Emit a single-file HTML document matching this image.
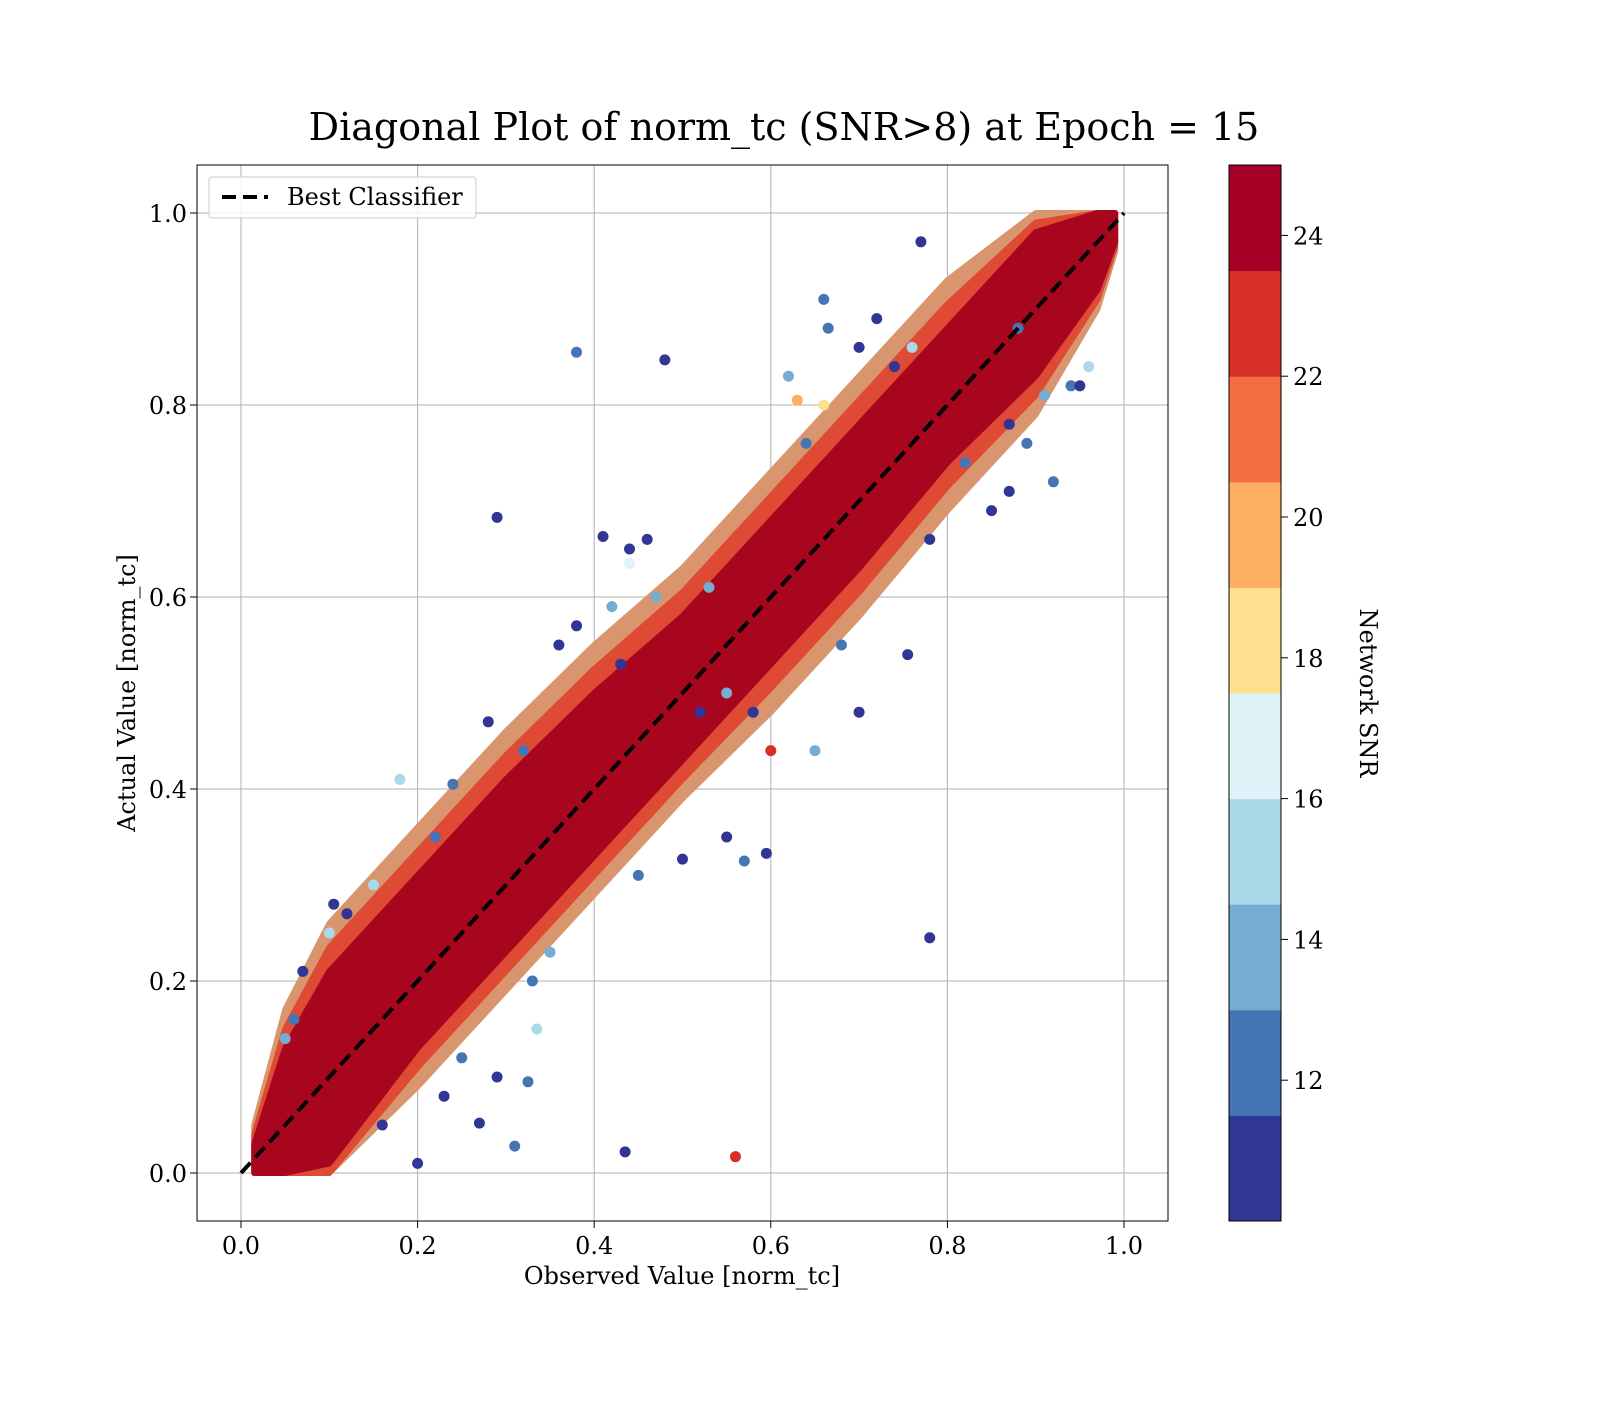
<!DOCTYPE html>
<html><head><meta charset="utf-8"><style>
body{margin:0;background:#fff;}
svg text{font-family:"DejaVu Serif","Liberation Serif",serif;fill:#000;}
</style></head><body>
<svg id="chart" width="1600" height="1400" xmlns="http://www.w3.org/2000/svg">
<rect width="1600" height="1400" fill="#fff"/>
<text x="784" y="140" font-size="38" text-anchor="middle">Diagonal Plot of norm_tc (SNR&gt;8) at Epoch = 15</text>
<g id="grid"></g>
<g id="band"></g>
<g id="pts"></g>
<line id="diag" stroke="#000" stroke-width="4" stroke-dasharray="14,7"/>
<rect x="197" y="165" width="971" height="1056" fill="none" stroke="#000" stroke-width="1"/>
<g id="ticks"></g>
<text x="682" y="1284" font-size="24" text-anchor="middle">Observed Value [norm_tc]</text>
<text transform="translate(135,693) rotate(-90)" font-size="24" text-anchor="middle">Actual Value [norm_tc]</text>
<g>
<rect x="209" y="177" width="267" height="41" rx="3" fill="#fff" fill-opacity="0.85" stroke="#ccc"/>
<line x1="222" y1="197" x2="268" y2="197" stroke="#000" stroke-width="4" stroke-dasharray="14,7"/>
<text x="287" y="205" font-size="24">Best Classifier</text>
</g>
<g id="cbar"></g>
<text transform="translate(1360,693) rotate(90)" font-size="24" text-anchor="middle">Network SNR</text>
</svg>
<script>
const xTicks=[0,0.2,0.4,0.6,0.8,1.0];
const yTicks=[0,0.2,0.4,0.6,0.8,1.0];
const cbTicks=[12,14,16,18,20,22,24];
const cbMin=10,cbMax=25;
const cbColors=["#313695","#4575b4","#74add1","#abd9e9","#e0f3f8","#fee090","#fdae61","#f46d43","#d73027","#a50026"];
// band envelope of dense scatter
const bandX=[0.015,0.05,0.1,0.2,0.3,0.4,0.5,0.6,0.7,0.8,0.9,0.97,0.99];
const bandOuterHi=[0.05,0.17,0.26,0.36,0.46,0.55,0.63,0.73,0.83,0.93,1.0,1.0,1.0];
const bandOuterLo=[0.0,0.0,0.0,0.09,0.19,0.29,0.39,0.48,0.58,0.69,0.79,0.9,0.96];
const bandMidHi=[0.04,0.15,0.235,0.335,0.435,0.525,0.605,0.705,0.805,0.905,0.99,1.0,1.0];
const bandMidLo=[0.0,0.0,0.0,0.11,0.21,0.31,0.41,0.505,0.605,0.715,0.81,0.91,0.965];
const bandInnerHi=[0.03,0.13,0.21,0.31,0.41,0.5,0.58,0.68,0.78,0.88,0.98,1.0,1.0];
const bandInnerLo=[0.0,0.0,0.01,0.13,0.23,0.33,0.43,0.53,0.63,0.74,0.83,0.92,0.97];
// individual points: observed, actual, snr
const ptX=[0.38,0.48,0.29,0.41,0.44,0.46,0.56,0.435,0.78,0.70,0.755,0.92,0.31,0.2,0.27,0.325,0.29,0.335,0.18,0.55,0.57,0.595,0.50,0.65,0.60,0.66,0.665,0.72,0.44,0.38,0.28,0.24,0.105,0.07,0.10,0.63,0.62,0.85,0.87,0.77,0.94,0.95,0.96,0.70,0.74,0.45,0.33,0.35,0.52,0.55,0.22,0.15,0.12,0.06,0.05,0.87,0.89,0.82,0.78,0.64,0.42,0.36,0.47,0.68,0.88,0.58,0.23,0.16,0.25,0.32,0.91,0.76,0.66,0.53,0.43];
const ptY=[0.855,0.847,0.683,0.663,0.65,0.66,0.017,0.022,0.245,0.48,0.54,0.72,0.028,0.01,0.052,0.095,0.10,0.15,0.41,0.35,0.325,0.333,0.327,0.44,0.44,0.91,0.88,0.89,0.635,0.57,0.47,0.405,0.28,0.21,0.25,0.805,0.83,0.69,0.71,0.97,0.82,0.82,0.84,0.86,0.84,0.31,0.2,0.23,0.48,0.50,0.35,0.30,0.27,0.16,0.14,0.78,0.76,0.74,0.66,0.76,0.59,0.55,0.60,0.55,0.88,0.48,0.08,0.05,0.12,0.44,0.81,0.86,0.80,0.61,0.53];
const ptS=[12.5,11,11,11,11,11,22.5,11,11,11,11,12.5,12.5,11,11,12.5,11,15,15,11,12.5,11,11,13,22,12.5,12.5,11,16.5,11,11,12.5,11,11,15,20,14,11,11,11,12.5,11,15,11,11,12.5,12.5,14,11,14,12.5,15,11,12.5,14,11,12.5,12.5,11,12.5,14,11,14,12.5,12.5,11,11,11,12.5,12.5,14,15,18,14,11];
const X=v=>241+v*883, Y=v=>1173-v*960, CB=v=>1221-(v-cbMin)/(cbMax-cbMin)*1056;
const NS="http://www.w3.org/2000/svg";
function mk(tag,attrs,parent){const e=document.createElementNS(NS,tag);for(const k in attrs)e.setAttribute(k,attrs[k]);parent.appendChild(e);return e;}
const grid=document.getElementById('grid'),ticks=document.getElementById('ticks');
xTicks.forEach(t=>{
 const g=mk('line',{x1:X(t),x2:X(t),y1:165,y2:1221,stroke:'#b0b0b0','stroke-width':1},grid);
 
 
 mk('line',{x1:X(t),x2:X(t),y1:1221,y2:1228,stroke:'#000'},ticks);
 const tx=mk('text',{x:X(t),y:1254,'font-size':24,'text-anchor':'middle'},ticks);tx.textContent=t.toFixed(1);
 
 
});
yTicks.forEach(t=>{
 const g=mk('line',{x1:197,x2:1168,y1:Y(t),y2:Y(t),stroke:'#b0b0b0','stroke-width':1},grid);
 
 
 mk('line',{x1:190,x2:197,y1:Y(t),y2:Y(t),stroke:'#000'},ticks);
 const tx=mk('text',{x:187,y:Y(t)+9,'font-size':24,'text-anchor':'end'},ticks);tx.textContent=t.toFixed(1);
 
 
});
const band=document.getElementById('band');
function poly(hi,lo,fill,name){
 let p=bandX.map((x,i)=>X(x)+','+Y(hi[i]));
 p=p.concat(bandX.map((x,i)=>X(x)+','+Y(lo[i])).reverse());
 const e=mk('polygon',{points:p.join(' '),fill:fill,'stroke':fill,'stroke-width':6,'stroke-linejoin':'round'},band);
 
 
}
poly(bandOuterHi,bandOuterLo,'#d9966e','scatter-band-outer');
poly(bandMidHi,bandMidLo,'#de4a34','scatter-band-mid');
poly(bandInnerHi,bandInnerLo,'#a8061f','scatter-band-core');
function col(s){let i=Math.floor((s-cbMin)/1.5);i=Math.max(0,Math.min(9,i));return cbColors[i];}
const pts=document.getElementById('pts');
ptX.forEach((x,i)=>{
 const c=mk('circle',{cx:X(x),cy:Y(ptY[i]),r:5.5,fill:col(ptS[i])},pts);
 
 
});
const d=document.getElementById('diag');d.setAttribute('x1',X(0));d.setAttribute('y1',Y(0));d.setAttribute('x2',X(1));d.setAttribute('y2',Y(1));
const cb=document.getElementById('cbar');
cbColors.forEach((c,i)=>{
 const lo=cbMin+i*1.5,hi=lo+1.5;
 const r=mk('rect',{x:1229,y:CB(hi),width:52,height:CB(lo)-CB(hi)+0.5,fill:c},cb);
 
 
});
mk('rect',{x:1229,y:165,width:52,height:1056,fill:'none',stroke:'#000'},cb);
cbTicks.forEach(t=>{
 mk('line',{x1:1281,x2:1288,y1:CB(t),y2:CB(t),stroke:'#000'},cb);
 const tx=mk('text',{x:1293,y:CB(t)+9,'font-size':24},cb);tx.textContent=t;
 
 
});
</script>
</body></html>
